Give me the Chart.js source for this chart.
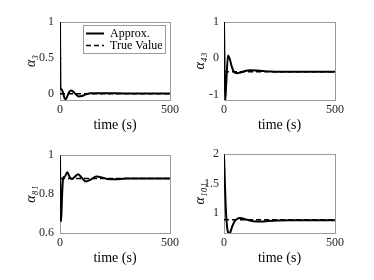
<!DOCTYPE html>
<html><head><meta charset="utf-8">
<script src="https://cdn.jsdelivr.net/npm/chart.js@4.4.0/dist/chart.umd.min.js"></script>
<style>
html,body{margin:0;padding:0;background:#fff;width:374px;height:280px;overflow:hidden}
canvas{position:absolute}
</style></head><body>
<canvas id="c1" width="187" height="140" style="left:0;top:0"></canvas>
<canvas id="c2" width="187" height="140" style="left:187px;top:0"></canvas>
<canvas id="c3" width="187" height="140" style="left:0;top:140px"></canvas>
<canvas id="c4" width="187" height="140" style="left:187px;top:140px"></canvas>
<script>
// ---- data ----
const timeTicks = [0, 500];
const tTrue = [0, 500];

const t1 = [0, 2, 5, 9, 14, 20, 26, 33, 42, 50, 60, 72, 85, 100, 118, 140, 170, 220, 300, 500];
const approx1 = [1, 0.09, 0.07, 0.06, 0.02, -0.05, -0.07, -0.03, 0.03, 0.05, 0.035, 0.0, -0.03, -0.025, 0.0, 0.012, 0.015, 0.013, 0.01, 0.01];
const true1 = [0.005, 0.005];
const yTicks1 = [0, 0.5, 1];

const t2 = [0, 5, 10, 18, 26, 36, 46, 58, 75, 95, 117, 145, 175, 210, 260, 500];
const approx2 = [1, -1.2, -0.7, 0.08, -0.02, -0.25, -0.38, -0.41, -0.39, -0.35, -0.33, -0.335, -0.35, -0.365, -0.37, -0.37];
const true2 = [-0.37, -0.37];
const yTicks2 = [-1, 0, 1];

const t3 = [0, 2, 5, 9, 14, 22, 33, 45, 55, 68, 82, 98, 117, 140, 165, 190, 215, 250, 300, 500];
const approx3 = [1, 0.75, 0.66, 0.78, 0.88, 0.89, 0.912, 0.885, 0.878, 0.89, 0.902, 0.885, 0.865, 0.875, 0.89, 0.886, 0.878, 0.876, 0.88, 0.88];
const true3 = [0.88, 0.88];
const yTicks3 = [0.6, 0.8, 1];

const t4 = [0, 4, 9, 15, 22, 28, 36, 46, 58, 75, 95, 120, 145, 170, 200, 240, 300, 500];
const approx4 = [2, 1.5, 1.0, 0.72, 0.64, 0.66, 0.75, 0.84, 0.89, 0.905, 0.885, 0.86, 0.848, 0.845, 0.855, 0.865, 0.87, 0.87];
const true4 = [0.875, 0.875];
const yTicks4 = [1, 1.5, 2];

// ---- style ----
const SERIF = "'Liberation Serif', 'Times New Roman', serif";
const AXIS = '#9a9a9a';
const TXT = '#262626';
const TL = -2;

function setTicks(list) { return s => { s.ticks = list.map(v => ({ value: v })); }; }

// closes the axes box (top and right edges) around the plot area
const boxPlugin = {
  id: 'axesBox',
  beforeDatasetsDraw(chart) {
    const ca = chart.chartArea, ctx = chart.ctx;
    ctx.save();
    ctx.strokeStyle = AXIS; ctx.lineWidth = 1;
    ctx.strokeRect(Math.round(ca.left) + 0.5, Math.round(ca.top) + 0.5,
                   Math.round(ca.right - ca.left), Math.round(ca.bottom - ca.top));
    ctx.restore();
  }
};

const legendPlugin = {
  id: 'legendPlace',
  afterLayout(chart) {
    const L = chart.legend; if (!L) return;
    const ca = chart.chartArea;
    L.left = ca.right - 84; L.top = ca.top + 5.5;
    L.right = ca.right + 2; L.bottom = ca.bottom;
    L.width = L.right - L.left; L.height = L.bottom - L.top;
  },
  afterDraw(chart) {
    const L = chart.legend; if (!L) return;
    const ctx = chart.ctx;
    ctx.save();
    ctx.font = '12px ' + SERIF;
    let w = 0;
    L.legendItems.forEach(it => { w = Math.max(w, ctx.measureText(it.text).width); });
    const x0 = Math.round(L.left - 3) + 0.5, y0 = Math.round(L.top - 2.5) + 0.5;
    const x1 = Math.round(L.left + 24 + w + 2) + 0.5, y1 = y0 + 28;
    ctx.strokeStyle = AXIS; ctx.lineWidth = 1;
    ctx.strokeRect(x0, y0, x1 - x0, y1 - y0);
    ctx.restore();
  }
};

function legendLabels(chart) {
  const items = Chart.defaults.plugins.legend.labels.generateLabels(chart);
  items.forEach(it => {
    const ds = chart.data.datasets[it.datasetIndex];
    it.lineDash = ds.borderDash || [];
    it.lineWidth = ds.borderWidth;
  });
  return items;
}

function panel(id, o) {
  const a = o.area;
  const axisFont = { family: SERIF, size: 12 };
  return new Chart(document.getElementById(id), {
    type: 'line',
    data: {
      datasets: [
        { label: 'Approx.', data: o.t.map((x, i) => ({ x, y: o.approx[i] })), borderColor: '#000', backgroundColor: '#000',
          borderWidth: 2, pointRadius: 0, cubicInterpolationMode: 'monotone', fill: false },
        { label: 'True Value', data: tTrue.map((x, i) => ({ x, y: o.truth[i] })), borderColor: '#000', backgroundColor: '#000',
          borderWidth: 1.5, borderDash: [5, 3], pointRadius: 0, fill: false }
      ]
    },
    plugins: o.legend ? [boxPlugin, legendPlugin] : [boxPlugin],
    options: {
      responsive: false, animation: false, events: [],
      layout: { padding: { left: 0, top: a.top, right: 187 - a.right, bottom: 0 } },
      plugins: {
        tooltip: { enabled: false },
        legend: o.legend ? {
          display: true, position: 'chartArea', align: 'start',
          labels: { usePointStyle: true, pointStyle: 'line', pointStyleWidth: 18, boxHeight: 12, padding: 0,
                    font: { family: SERIF, size: 12 }, color: '#000', generateLabels: legendLabels }
        } : { display: false }
      },
      scales: {
        x: {
          type: 'linear', min: 0, max: 500, afterBuildTicks: setTicks(timeTicks),
          afterFit: s => { s.height = 140 - a.bottom; },
          grid: { drawOnChartArea: false, tickLength: TL, color: AXIS },
          border: { color: AXIS },
          ticks: { padding: 5, font: axisFont, color: TXT, maxRotation: 0, autoSkip: false, callback: v => String(v) },
          title: { display: true, text: 'time (s)', font: { family: SERIF, size: 14 }, color: '#000', padding: { top: 0, bottom: o.xTitlePad } }
        },
        y: {
          type: 'linear', min: o.yMin, max: o.yMax, afterBuildTicks: setTicks(o.yTicks),
          afterFit: s => { s.width = a.left; },
          grid: { drawOnChartArea: false, tickLength: TL, color: AXIS },
          border: { color: AXIS },
          ticks: { padding: o.yPad, font: axisFont, color: TXT, autoSkip: false, callback: v => String(v) },
          title: { display: true, text: o.yTitle, font: { family: SERIF, size: 14, style: 'italic' }, color: '#000', padding: { top: o.yTitlePad, bottom: 0 } }
        }
      }
    }
  });
}

panel('c1', { area: { left: 60, top: 22, right: 170, bottom: 100 }, t: t1, approx: approx1, truth: true1,
  yMin: -0.08, yMax: 1, yTicks: yTicks1, yTitle: 'α₃', yTitlePad: 23, yPad: 8, xTitlePad: 6.6, legend: true });
panel('c2', { area: { left: 37, top: 22, right: 148, bottom: 100 }, t: t2, approx: approx2, truth: true2,
  yMin: -1.15, yMax: 1, yTicks: yTicks2, yTitle: 'α₄₃', yTitlePad: 4.6, yPad: 7, xTitlePad: 6.6, legend: false });
panel('c3', { area: { left: 60, top: 14, right: 170, bottom: 93 }, t: t3, approx: approx3, truth: true3,
  yMin: 0.6, yMax: 1, yTicks: yTicks3, yTitle: 'α₈₁', yTitlePad: 22.6, yPad: 8, xTitlePad: 13.6, legend: false });
panel('c4', { area: { left: 37, top: 14, right: 148, bottom: 93 }, t: t4, approx: approx4, truth: true4,
  yMin: 0.65, yMax: 2, yTicks: yTicks4, yTitle: 'α₁₀₁', yTitlePad: 4.6, yPad: 7, xTitlePad: 13.6, legend: false });
</script>
</body></html>
